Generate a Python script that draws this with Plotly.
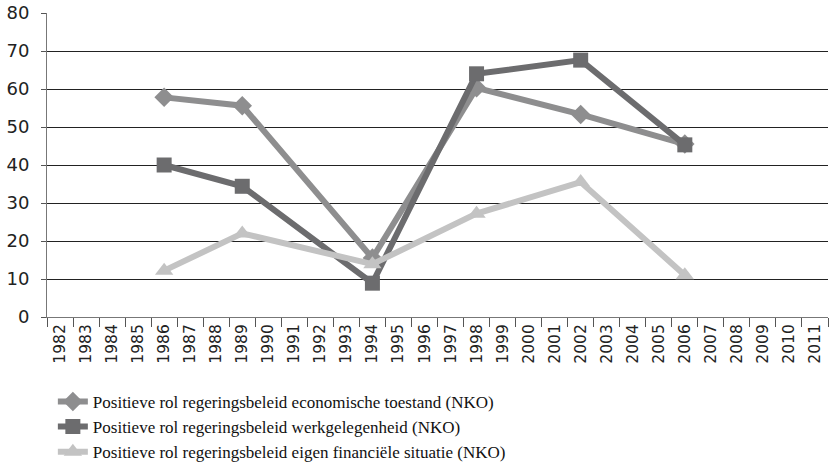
import plotly.graph_objects as go

years = [str(y) for y in range(1982, 2012)]
survey_years = ["1986", "1989", "1994", "1998", "2002", "2006"]
economie = [57.8, 55.6, 15.5, 60.3, 53.3, 45.5]
werk = [40.0, 34.4, 8.9, 64.0, 67.6, 45.3]
financien = [12.2, 22.0, 13.9, 27.2, 35.5, 11.0]

names = [
    "Positieve rol regeringsbeleid economische toestand (NKO)",
    "Positieve rol regeringsbeleid werkgelegenheid (NKO)",
    "Positieve rol regeringsbeleid eigen financiële situatie (NKO)",
]

fig = go.Figure()
fig.add_trace(go.Scatter(x=survey_years, y=economie, name=names[0], mode="lines+markers",
                         line=dict(color="#8e8e8f", width=6),
                         marker=dict(symbol="diamond", size=15, color="#8e8e8f")))
fig.add_trace(go.Scatter(x=survey_years, y=werk, name=names[1], mode="lines+markers",
                         line=dict(color="#6c6c6e", width=6),
                         marker=dict(symbol="square", size=15, color="#6c6c6e")))
fig.add_trace(go.Scatter(x=survey_years, y=financien, name=names[2], mode="lines+markers",
                         line=dict(color="#c3c3c3", width=6),
                         marker=dict(symbol="triangle-up", size=16, color="#c3c3c3")))

fig.add_shape(type="line", xref="x", yref="y", x0="2002", x1="2002", y0=0, y1=80,
              line=dict(color="#333333", width=1), layer="below")

fig.update_layout(
    width=830, height=467,
    margin=dict(l=47, r=2, t=13, b=150, autoexpand=False),
    plot_bgcolor="white", paper_bgcolor="white",
    showlegend=True,
    legend=dict(orientation="v", x=0.0075, xanchor="left", y=-0.22, yanchor="top",
                font=dict(family="Liberation Serif", size=17, color="#111111"),
                tracegroupgap=0, itemwidth=30, bgcolor="rgba(0,0,0,0)"),
    xaxis=dict(type="category", categoryorder="array", categoryarray=years,
               range=[-0.5, 29.5], tickson="boundaries", ticks="outside", ticklen=9,
               tickcolor="#555555", tickangle=-90, showgrid=False, automargin=False,
               showline=True, linecolor="#777777", linewidth=1,
               ticklabeloverflow="allow",
               tickfont=dict(family="DejaVu Sans", size=15.5, color="#222222")),
    yaxis=dict(range=[0, 80], dtick=10, showgrid=True, gridcolor="#222222", gridwidth=1,
               showline=True, linecolor="#777777", linewidth=1, zeroline=False,
               automargin=False, ticks="outside", ticklen=5, tickcolor="#555555",
               ticklabelstandoff=8, ticklabeloverflow="allow",
               tickfont=dict(family="DejaVu Sans", size=18, color="#222222")),
)

fig.write_html("out.html", config={"displayModeBar": False},
               post_script="document.body.style.margin='0';document.body.style.padding='0';")
